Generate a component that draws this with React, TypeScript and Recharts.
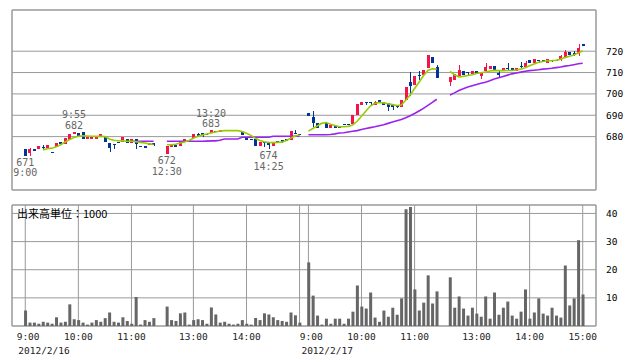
import {
  ComposedChart, Bar, Line, Scatter, XAxis, YAxis, CartesianGrid, ReferenceArea,
} from "recharts";

// ---- data ----
const dates = ["2012/2/16", "2012/2/17"];
const sessionStarts = ["9:00", "12:30"];
const hourTicks = ["9:00", "10:00", "11:00", "13:00", "14:00", "15:00"];
const priceTicks = [680, 690, 700, 710, 720];
const volumeTicks = [10, 20, 30, 40];

// 5-minute bars: [open, high, low, close]
const day1AmOhlc = [
  [674.3, 674.3, 671, 671], [672.5, 674.5, 671, 674.3], [674, 674, 674, 674], [674.3, 675.5, 674.3, 675.4],
  [675, 676, 673.8, 674.9], [674.6, 676.2, 674.6, 676.2], [672.8, 672.8, 672.8, 672.8], [675.1, 677.2, 675.1, 677.2],
  [677.7, 677.7, 676.6, 676.6], [676.6, 679.2, 676.6, 679.2], [678.5, 681.2, 678.5, 681.2], [681.1, 682.3, 681.1, 682.3],
  [681.5, 681.7, 680.3, 680.5], [682, 682.2, 678.9, 678.9], [678.8, 680, 678.8, 680], [678.8, 680, 678.8, 680],
  [678.8, 679.7, 678.8, 679.7], [679.7, 681, 679.7, 681], [679.7, 679.7, 677.7, 677.7], [677.2, 677.2, 672.6, 674.6],
  [676.5, 676.5, 674.2, 676.4], [677.7, 677.7, 677.7, 677.6], [677.7, 679.7, 677.7, 679.7], [678.8, 678.8, 677.2, 677.2],
  [677, 678.9, 677, 678.9], [678.7, 678.9, 674.3, 676.5], [675.5, 675.5, 675.5, 675.4], [675.4, 675.4, 675.4, 675.3],
  [676.3, 677.2, 676.3, 677.2], [676.8, 676.8, 675.8, 676.7],
];
const day1PmOhlc = [
  [671.8, 675.4, 671.8, 675.4], [675, 676, 675, 676], [676, 676, 675, 675], [675.5, 677.5, 675.5, 677.5],
  [677.5, 678.8, 677.5, 678.8], [678.6, 678.6, 678.6, 678.5], [679.2, 681.4, 679.2, 681.4], [681, 681.8, 679.8, 680.8],
  [681.5, 681.5, 680, 681.3], [681.2, 681.2, 681.2, 681.1], [681.5, 683, 681.5, 683], [682.8, 682.8, 682, 682.7],
  [682, 682.9, 682, 682.9], [683, 683, 683, 682.9], [683, 683, 683, 682.9], [683, 683, 683, 682.9],
  [683, 683, 683, 682.9], [682.3, 682.3, 680.8, 680.8], [679.8, 679.8, 678.6, 678.6], [679, 679, 679, 678.9],
  [678.9, 678.9, 675.8, 675.8], [675.8, 677.5, 675.8, 677.5], [677.5, 677.5, 675, 677.3], [676.8, 676.8, 674, 676.6],
  [675.5, 677.5, 675.5, 677.5], [677.8, 677.8, 677, 677.7], [678.2, 678.2, 677.2, 678], [679, 679, 677.8, 677.8],
  [678.2, 682.5, 678.2, 682.5], [681.9, 683.2, 681.8, 681.8], [681.2, 681.2, 681.2, 681.2],
];
const day2AmOhlc = [
  [691, 691, 689.8, 689.8], [689.4, 692, 684.7, 686.6], [686.6, 686.6, 684, 684], [686.6, 686.6, 686.6, 686.5],
  [686.4, 686.6, 684, 684], [684, 685.6, 684, 685.6], [685, 685, 684, 684], [685, 685, 684, 684],
  [685.8, 685.8, 685.8, 685.7], [685.8, 685.8, 685.8, 685.7], [685.8, 690, 685.8, 690], [690, 695.3, 690, 695.3],
  [694.6, 696.4, 694.6, 696.3], [696.3, 696.3, 694.8, 696.1], [696.3, 696.3, 695, 696.1], [694.7, 696.5, 694.7, 696.1],
  [697.1, 697.2, 696.4, 696.4], [696.4, 696.4, 694.8, 694.8], [695.7, 695.7, 691.8, 693.8], [695, 695, 692.5, 694],
  [694.6, 694.6, 693.2, 694.5], [694.1, 697.2, 694.1, 697.2], [697.2, 703.4, 697.2, 703.4], [705.5, 710.3, 698.8, 703.5],
  [704, 708.6, 704, 708.6], [709, 710.5, 706.5, 708.7], [708.9, 711.4, 708.9, 711.4], [712, 718.2, 712, 718.2],
  [717.4, 717.4, 714.4, 714.4], [712.8, 713.6, 707.3, 707.3],
];
const day2PmOhlc = [
  [705.5, 708, 703.8, 708], [706.5, 709.5, 706.5, 709.3], [708, 713.5, 708, 711], [710.5, 710.5, 709, 709],
  [710.3, 710.3, 709, 710.1], [709.3, 710.5, 709.3, 710.5], [710.5, 710.5, 709.3, 709.3], [708.3, 710, 707.2, 710],
  [710.5, 714.5, 710.5, 712.8], [711.6, 713.1, 711.6, 713.1], [713, 713, 710.5, 710.5], [709.6, 710.6, 707.8, 709.4],
  [710.5, 712, 710.5, 712], [712.2, 714.6, 710.5, 712], [712, 712, 710.5, 710.5], [710.5, 712.3, 710.5, 712.3],
  [713.2, 715, 712, 713], [712.8, 715.5, 712.8, 714.7], [716, 716, 714.4, 714.4], [714.6, 716.4, 714.6, 716.2],
  [716, 716, 714.6, 715.5], [715.8, 715.8, 715.8, 715.7], [714.6, 716.4, 714.6, 716.2], [715.8, 715.8, 714.8, 715.7],
  [715.8, 715.8, 715.8, 715.7], [716, 718.2, 715.5, 717.6], [717.3, 720.4, 717.3, 719.5], [719.6, 719.6, 718, 718],
  [719, 720, 717.8, 718.9], [718.5, 723.6, 717.8, 721.5], [723.2, 723.2, 723.2, 723.1],
];

// volume (x1000 shares)
const day1AmVol = [5.5, 1.2, 1.2, 0.8, 1.5, 1.2, 0.8, 3.1, 1.2, 1.5, 7.7, 2.4, 2.1, 1.2, 0.5, 1.2, 2.1, 1.5, 2.8, 4.8, 1.5, 1.2, 3.1, 1.8, 0.8, 10.3, 0.5, 2.1, 1.5, 2.8];
const day1PmVol = [6.9, 2.1, 1.8, 4.5, 4.8, 0.5, 2.1, 2.4, 2.1, 0.8, 6.6, 4.1, 1.2, 1.5, 0.8, 0.5, 0.8, 2.1, 0.8, 0.5, 2.8, 2.1, 4.5, 4.1, 3.1, 2.1, 1.8, 1.5, 4.8, 3.8, 1.2];
const day2AmVol = [22.6, 10.8, 3.7, 0.5, 2.6, 0.8, 2.6, 2.6, 0.8, 2.6, 5.1, 14.4, 6.9, 6.2, 11.9, 3.0, 1.5, 5.5, 3.3, 6.5, 4.0, 9.8, 41.5, 42.3, 13.0, 5.5, 8.3, 18.0, 8.0, 12.3];
const day2PmVol = [17.3, 6.5, 10.5, 6.2, 3.7, 6.5, 4.4, 3.3, 10.5, 2.6, 11.9, 4.0, 6.5, 8.7, 3.7, 2.6, 5.1, 13.0, 2.6, 4.8, 9.8, 4.4, 3.7, 6.5, 3.7, 3.0, 21.5, 7.3, 9.8, 30.5, 11.2];

// short moving average (green)
const day1AmMa5 = [null, null, null, null, 673.8, 674.3, 674.6, 675.2, 676.2, 677.5, 678.6, 679.6, 680.2, 680.4, 680.3, 680.2, 680.1, 680.2, 680, 678.9, 678.3, 678.1, 678, 677.8, 677.8, 677.6, 677.3, 677, 676.6, 676.3];
const day1PmMa5 = [676.2, 676.2, 676.4, 677, 677.5, 678.2, 679.2, 680.2, 680.8, 681.2, 681.7, 682.2, 682.6, 682.8, 682.8, 682.8, 682.8, 682.4, 681.6, 680.6, 679.2, 678.2, 677.6, 677.3, 677.2, 677.3, 677.4, 678.2, 679.3, 680.3, 680.8];
const day2AmMa5 = [682.6, 683.8, 685, 686.2, 686.6, 685.8, 685.2, 684.6, 684.6, 684.8, 685.4, 687.2, 689.5, 692, 694.3, 695.6, 696, 695.8, 695.4, 695, 694.6, 694.8, 697, 699.5, 702.5, 705.5, 708.5, 711, 711.8, 711.6];
const day2PmMa5 = [710.6, 709, 708, 708.2, 708.6, 709, 709.6, 709.9, 710.3, 710.7, 711, 710.9, 710.9, 711, 711, 711.2, 711.6, 712.3, 713.2, 714, 714.8, 715.2, 715.5, 715.6, 715.8, 716.3, 717, 717.6, 718.2, 719.2, 720.2];

// long moving average (purple)
const day1AmMa25 = [null, null, null, null, null, null, null, null, null, null, null, null, null, null, null, null, null, null, null, null, null, null, null, null, 677.8, 677.8, 677.8, 677.8, 677.8, 677.8];
const day1PmMa25 = [677.8, 677.8, 677.8, 677.8, 677.8, 677.8, 677.8, 677.8, 677.8, 677.9, 678, 678, 678.3, 678.9, 678.9, 678.9, 678.9, 679.7, 679.7, 679.7, 679.7, 679.7, 679.7, 679.7, 680.2, 680.2, 680.2, 680.2, 680.2, 680.2, 680.2];
const day2AmMa25 = [680.9, 680.9, 680.9, 680.9, 680.9, 681, 681.3, 681.7, 681.8, 682.2, 682.5, 682.8, 683.3, 683.8, 684.2, 684.6, 685.1, 685.6, 686.2, 686.8, 687.4, 688, 688.8, 689.8, 690.8, 692, 693.2, 694.6, 696, 697.5];
const day2PmMa25 = [699.5, 700.5, 701.6, 702.4, 703.2, 703.8, 704.4, 705, 705.5, 706.2, 707, 707.6, 708.2, 708.8, 709.4, 709.8, 710.2, 710.6, 710.9, 711.1, 711.3, 711.6, 711.8, 712, 712.3, 712.6, 713, 713.3, 713.7, 714.1, 714.4];

// highs / lows marked on the chart
const notes = [
  { day: 0, time: "9:00", kind: "low" },
  { day: 0, time: "9:55", kind: "high" },
  { day: 0, time: "12:30", kind: "low" },
  { day: 0, time: "13:20", kind: "high" },
  { day: 0, time: "14:25", kind: "low" },
];

// ---- build rows (one slot per 5-min bar, empty slots for lunch / overnight) ----
const LUNCH_GAP = 2;
const NIGHT_GAP = 1;
const sessions = [
  [day1AmOhlc, day1AmVol, day1AmMa5, day1AmMa25],
  [day1PmOhlc, day1PmVol, day1PmMa5, day1PmMa25],
  [day2AmOhlc, day2AmVol, day2AmMa5, day2AmMa25],
  [day2PmOhlc, day2PmVol, day2PmMa5, day2PmMa25],
] as const;

function addMinutes(t: string, m: number) {
  const [h, mm] = t.split(":").map(Number);
  const total = h * 60 + mm + m;
  return `${Math.floor(total / 60)}:${String(total % 60).padStart(2, "0")}`;
}

type Row = {
  slot: number; day: number; time: string;
  open: number | null; high: number | null; low: number | null; close: number | null;
  vol: number | null; ma5: number | null; ma25: number | null;
};

const rows: Row[] = [];
let slotCounter = 0;
sessions.forEach(([ohlc, vol, ma5, ma25], i) => {
  const day = Math.floor(i / 2);
  const start = sessionStarts[i % 2];
  ohlc.forEach((b, k) => {
    rows.push({
      slot: slotCounter++, day, time: addMinutes(start, k * 5),
      open: b[0], high: b[1], low: b[2], close: b[3],
      vol: vol[k], ma5: ma5[k], ma25: ma25[k],
    });
  });
  if (i === sessions.length - 1) return;
  const gap = i % 2 === 0 ? LUNCH_GAP : NIGHT_GAP;
  for (let g = 0; g < gap; g++) {
    rows.push({
      slot: slotCounter++, day, time: "",
      open: null, high: null, low: null, close: null, vol: null, ma5: null, ma25: null,
    });
  }
});

const lastSlot = rows[rows.length - 1].slot;
const X_MIN = -3;
const X_MAX = lastSlot + 3;
const Y_MIN = 655;
const Y_MAX = 739.3;
const V_MAX = 43;

const ticks = dates.flatMap((_, d) =>
  hourTicks.map((t) => {
    const r = rows.find((row) => row.day === d && row.time === t)!;
    return { slot: r.slot, time: t, date: t === hourTicks[0] ? dates[d] : "" };
  }),
);
const tickSlots = ticks.map((t) => t.slot);
const tickInfo = new Map(
  ticks.map((t, i) => [t.slot, { ...t, show: !ticks[i + 1] || ticks[i + 1].slot - t.slot > 3 }]),
);

const noteData = notes.map((n) => {
  const r = rows.find((row) => row.day === n.day && row.time === n.time)!;
  const value = (n.kind === "high" ? r.high : r.low) as number;
  return { slot: r.slot, value, price: String(Math.round(value)), time: n.time, kind: n.kind };
});

// ---- styles ----
const RED = "#f2144b";
const BLUE = "#003399";
const GREEN = "#99cc00";
const PURPLE = "#9a22f0";
const GRID = "#999999";
const MONO = "'DejaVu Sans Mono', monospace";

function Candle(props: any) {
  const { x, y, width, height, payload } = props;
  if (payload == null || payload.high == null) return null;
  const { open, high, low, close } = payload;
  const k = height / (high - Y_MIN);
  const py = (v: number) => y + (high - v) * k;
  const color = close > open ? RED : BLUE;
  const cx = Math.round(x + width / 2) + 0.5;
  const top = py(Math.max(open, close));
  const bot = py(Math.min(open, close));
  return (
    <g shapeRendering="crispEdges">
      <line x1={cx} x2={cx} y1={py(high)} y2={py(low)} stroke={color} strokeWidth={1} />
      <rect x={x} y={top} width={width} height={Math.max(bot - top, 1.2)} fill={color} />
    </g>
  );
}

function Note(props: any) {
  const { cx, cy, payload } = props;
  const high = payload.kind === "high";
  const first = high ? payload.time : payload.price;
  const second = high ? payload.price : payload.time;
  const y1 = high ? cy - 13.5 : cy + 10;
  const y2 = high ? cy - 3 : cy + 20.5;
  const style = { fontFamily: MONO, fontSize: 10, fill: "#666" };
  return (
    <g>
      <text x={cx} y={y1} textAnchor="middle" style={style}>{first}</text>
      <text x={cx} y={y2} textAnchor="middle" style={style}>{second}</text>
    </g>
  );
}

function TimeTick(props: any) {
  const { x, y, payload } = props;
  const info = tickInfo.get(payload.value);
  if (!info || !info.show) return null;
  const style = { fontFamily: MONO, fontSize: 9.5, fill: "#222" };
  return (
    <g>
      <text x={x} y={y + 12} textAnchor="middle" style={style}>{info.time.padStart(5, "\u00a0")}</text>
      {info.date && (
        <text x={x - 7} y={y + 26} textAnchor="start" style={style}>{info.date}</text>
      )}
    </g>
  );
}

export default function App() {
  return (
    <div style={{ position: "absolute", left: 0, top: 0, width: 638, height: 362, background: "#fff" }}>
      <div style={{ position: "absolute", left: 0, top: 0 }}>
        <ComposedChart width={638} height={200} data={rows} margin={{ top: 10, right: 0, bottom: 10, left: 12 }}>
          <CartesianGrid stroke={GRID} />
          <XAxis
            dataKey="slot" type="number" domain={[X_MIN, X_MAX]} ticks={tickSlots} interval={0}
            tick={false} tickLine={false} axisLine={false} height={0} allowDataOverflow
          />
          <YAxis
            orientation="right" width={42} domain={[Y_MIN, Y_MAX]} ticks={priceTicks} interval={0}
            tickLine={false} axisLine={false} tickSize={0} tickMargin={10} allowDataOverflow
            tick={{ fontSize: 9.5, fill: "#000", fontFamily: MONO }}
          />
          <ReferenceArea x1={X_MIN} x2={X_MAX} y1={Y_MIN} y2={Y_MAX} fill="none" fillOpacity={0} stroke={GRID} strokeOpacity={1} />
          <Line dataKey="ma25" stroke={PURPLE} strokeWidth={1.6} dot={false} activeDot={false} isAnimationActive={false} />
          <Bar
            dataKey={(d: Row) => (d.high == null ? null : [Y_MIN, d.high])}
            barSize={3} shape={(p: any) => <Candle {...p} />} isAnimationActive={false}
          />
          <Line dataKey="ma5" stroke={GREEN} strokeWidth={1.6} dot={false} activeDot={false} isAnimationActive={false} />
          <Scatter data={noteData} dataKey="value" shape={(p: any) => <Note {...p} />} isAnimationActive={false} />
        </ComposedChart>
      </div>
      <div style={{ position: "absolute", left: 0, top: 195 }}>
        <ComposedChart width={638} height={167} data={rows} margin={{ top: 10, right: 0, bottom: 0, left: 12 }}>
          <CartesianGrid stroke={GRID} />
          <XAxis
            dataKey="slot" type="number" domain={[X_MIN, X_MAX]} ticks={tickSlots} interval={0}
            tick={(p: any) => <TimeTick {...p} />} tickLine={false} axisLine={false} tickSize={0}
            height={36} allowDataOverflow
          />
          <YAxis
            orientation="right" width={42} domain={[0, V_MAX]} ticks={volumeTicks} interval={0}
            tickLine={false} axisLine={false} tickSize={0} tickMargin={10} allowDataOverflow
            tick={{ fontSize: 9.5, fill: "#000", fontFamily: MONO }}
          />
          <ReferenceArea
            x1={X_MIN} x2={X_MAX} y1={0} y2={V_MAX} fill="none" fillOpacity={0} stroke={GRID} strokeOpacity={1}
            label={{
              value: "出来高単位：1000", position: "insideTopLeft", offset: 5,
              style: { fontFamily: "'Noto Sans CJK JP', sans-serif", fontSize: 11, fill: "#000" },
            }}
          />
          <Bar dataKey="vol" barSize={3} fill="#666666" isAnimationActive={false} />
        </ComposedChart>
      </div>
    </div>
  );
}
